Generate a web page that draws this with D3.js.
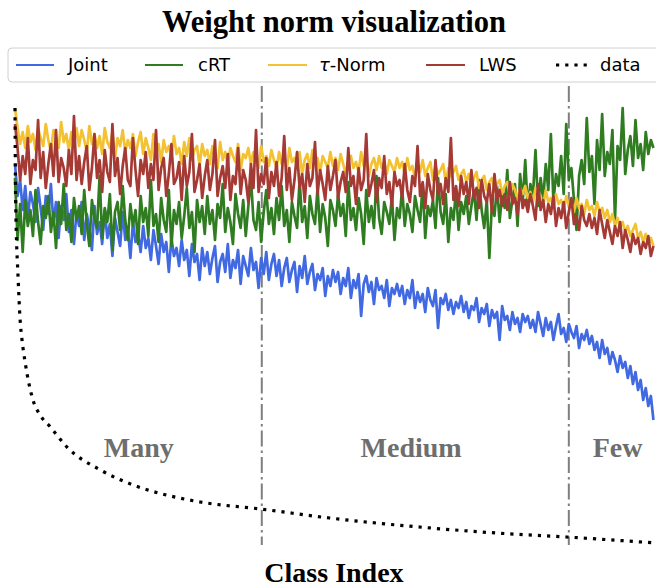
<!DOCTYPE html>
<html>
<head>
<meta charset="utf-8">
<script src="https://cdn.jsdelivr.net/npm/d3@7"></script>
<style>
  html, body { margin: 0; padding: 0; background: #fff; }
  svg { display: block; }
</style>
</head>
<body>
<svg id="chart" width="656" height="588"></svg>
<script>
// Per-class classifier weight norms (scaled units), sampled every 4th class of 1000,
// classes sorted by training-set frequency.
const numClasses = 1000;
const sampleStep = 4;

const jointNorm = [
  168,152,160,145,157,141,154,148,139,156,146,135,152,143,158,138,149,131,147,140,153,134,145,128,144,
  137,149,130,143,136,125,147,133,139,128,145,131,138,122,141,134,127,144,130,136,121,139,129,133,124,
  137,126,131,120,135,127,118,133,124,129,114,131,122,126,117,130,120,125,112,128,119,123,110,126,117,
  124,113,121,127,109,119,123,114,128,111,120,116,125,108,122,117,112,126,115,119,106,121,113,124,110,
  118,123,112,120,107,116,121,109,115,119,104,117,111,122,108,114,118,105,113,110,116,102,112,107,115,
  109,114,103,111,107,116,101,110,106,113,92,108,112,104,109,98,111,105,107,101,110,97,106,103,108,
  102,107,98,105,101,110,96,104,99,103,94,106,100,97,105,86,101,98,103,95,100,93,99,96,102,
  94,99,91,97,95,101,89,96,93,98,87,95,91,94,80,97,90,92,85,94,88,91,84,93,89,
  92,86,90,84,94,88,82,91,85,89,80,87,93,83,86,79,88,84,81,87,76,83,80,85,78,
  82,75,79,71,80,73,76,68,74,70,64,72,66,69,61,67,58,64,55,60,50,56,47,52,40
];

const crtNorm = [
  161,130,148,124,150,137,145,132,155,139,128,147,141,152,134,144,126,149,138,158,135,143,129,151,140,
  147,133,155,138,127,150,141,136,162,131,146,139,153,125,144,149,135,157,140,130,148,137,145,128,152,
  139,146,132,160,137,143,129,151,140,134,155,127,145,138,149,131,142,156,136,144,124,150,139,147,133,
  152,138,145,130,148,141,158,134,146,139,128,153,143,136,150,132,147,161,140,135,149,129,144,155,138,
  146,133,151,140,157,137,145,129,149,142,136,160,139,147,131,152,143,138,156,134,148,141,127,150,145,
  137,153,142,148,132,159,140,146,135,151,143,128,155,139,147,136,162,141,133,149,144,138,152,130,146,
  141,156,137,148,143,134,152,145,139,158,131,147,142,150,136,161,144,138,153,129,146,140,155,135,149,
  143,152,138,147,155,140,160,145,136,150,121,148,142,157,139,153,146,165,141,150,158,137,163,149,170,
  145,158,152,175,147,161,150,168,155,183,149,163,157,172,153,188,160,166,150,135,162,170,158,191,164,
  172,148,180,165,193,162,174,168,185,140,177,170,196,163,175,182,167,190,171,178,165,184,173,180,176
];

const tauNorm = [
  196,186,178,184,176,187,179,183,175,186,181,177,188,180,174,185,182,176,189,179,183,175,184,178,186,
  177,185,180,174,187,178,183,176,182,173,186,179,176,184,171,181,177,185,174,180,176,183,172,179,184,
  173,181,176,170,183,175,178,169,180,174,177,171,182,173,176,168,179,172,181,170,175,177,167,178,172,
  175,168,177,171,166,179,170,174,167,176,172,169,178,165,173,171,176,168,174,170,166,177,169,172,167,
  175,170,166,174,168,172,165,176,169,171,167,174,163,170,173,166,175,168,171,164,172,169,166,174,167,
  171,165,173,168,163,170,172,166,169,164,174,167,170,162,168,171,165,172,166,169,163,170,167,164,171,
  166,169,163,171,165,167,161,168,164,170,162,166,169,160,167,163,165,168,159,166,162,164,167,160,163,
  165,159,163,157,161,164,156,160,162,155,159,161,154,158,160,153,157,159,152,158,155,150,156,153,157,
  151,154,149,156,150,152,147,155,149,151,146,153,148,150,145,152,147,149,144,151,146,148,143,150,145,
  147,142,149,144,146,141,145,139,143,137,141,136,139,134,137,132,135,138,131,134,129,133,128,131,127
];

const lwsNorm = [
  188,176,160,172,163,181,158,170,165,190,161,174,156,168,178,162,185,159,171,166,157,175,163,192,160,
  172,158,169,177,155,166,183,161,170,154,175,164,159,188,162,171,153,167,176,160,157,181,165,152,170,
  163,174,156,168,160,185,155,166,171,152,163,178,158,161,169,150,172,157,164,183,154,160,168,151,162,
  170,155,163,180,152,161,167,156,173,150,162,158,176,153,165,160,149,168,156,185,154,163,158,171,151,
  164,157,169,152,161,182,155,166,150,160,174,156,163,149,168,157,161,179,153,165,158,150,167,155,162,
  170,151,159,164,154,176,157,162,148,166,155,160,183,152,158,165,149,161,156,172,153,159,147,164,157,
  160,151,168,155,149,162,157,177,152,159,146,163,155,150,170,153,158,148,161,154,181,150,157,147,162,
  153,159,148,165,151,156,146,160,152,149,158,144,163,150,155,147,153,145,159,148,151,143,156,146,150,
  144,153,147,140,158,145,150,139,148,143,152,137,146,141,149,136,144,151,138,142,135,147,140,137,143,
  136,141,133,145,138,131,140,134,128,137,132,139,126,135,130,124,133,128,131,123,129,126,132,122,127
];

// Training images per class (long-tailed distribution)
const dataClass = [0, 1, 5, 8, 11, 16, 28, 39, 55, 81, 133, 184, 237, 289, 385, 491, 647, 752, 864, 999];
const dataCount = [1280, 1010, 776, 659, 600, 533, 425, 381, 346, 287, 220, 176, 146, 126, 105, 79, 50, 35, 23, 6];

// Many / Medium / Few split points and group captions
const splitClass = [385, 864];
const groupLabels = ["Many", "Medium", "Few"];
const groupLabelClass = [193, 618, 940];

const seriesNames = ["Joint", "cRT", "τ-Norm", "LWS"];
const seriesColors = ["#4169e1", "#2f7d20", "#f3c232", "#a53a35"];
const seriesValues = [jointNorm, crtNorm, tauNorm, lwsNorm];

const svg = d3.select("#chart");
const serif = "'Liberation Serif', 'Times New Roman', Times, serif";
const sans = "'DejaVu Sans', Verdana, sans-serif";

const x = d3.scaleLinear().domain([0, numClasses]).range([15, 656]);
const yNorm = d3.scaleLinear().domain([0, 200]).range([500, 100]);
const yCount = d3.scaleLinear().domain([0, 1280]).range([545, 108]);

// Title
svg.append("text")
  .attr("x", 334).attr("y", 32)
  .attr("text-anchor", "middle")
  .style("font-family", serif).style("font-weight", "bold").style("font-size", "30.5px")
  .text("Weight norm visualization");

// Split markers
svg.selectAll("line.split")
  .data(splitClass)
  .join("line")
  .attr("class", "split")
  .attr("x1", d => x(d)).attr("x2", d => x(d))
  .attr("y1", 86).attr("y2", 545)
  .attr("stroke", "#7f7f7f").attr("stroke-width", 2)
  .attr("stroke-dasharray", "16,4,2.5,4");

// Group captions
svg.selectAll("text.group")
  .data(groupLabels)
  .join("text")
  .attr("class", "group")
  .attr("x", (d, i) => x(groupLabelClass[i]))
  .attr("y", 457)
  .attr("text-anchor", "middle")
  .attr("fill", "#6e6e6e")
  .style("font-family", serif).style("font-weight", "bold").style("font-size", "28px")
  .text(d => d);

// Weight-norm curves
const normLine = d3.line()
  .x((d, i) => x(i * sampleStep))
  .y(d => yNorm(d));

seriesValues.forEach((vals, s) => {
  svg.append("path")
    .datum(vals)
    .attr("d", normLine)
    .attr("fill", "none")
    .attr("stroke", seriesColors[s])
    .attr("stroke-width", 2.7)
    .attr("stroke-linejoin", "round");
});

// Class frequency curve
const countLine = d3.line()
  .x((d, i) => x(dataClass[i]))
  .y(d => yCount(d))
  .curve(d3.curveMonotoneX);

svg.append("path")
  .datum(dataCount)
  .attr("d", countLine)
  .attr("fill", "none")
  .attr("stroke", "#000")
  .attr("stroke-width", 3.2)
  .attr("stroke-dasharray", "3.2,6");

// X label
svg.append("text")
  .attr("x", 334).attr("y", 582)
  .attr("text-anchor", "middle")
  .style("font-family", serif).style("font-weight", "bold").style("font-size", "28px")
  .text("Class Index");

// Legend
const legend = svg.append("g");
legend.append("rect")
  .attr("x", 8).attr("y", 48).attr("width", 660).attr("height", 34)
  .attr("rx", 4)
  .attr("fill", "#fff").attr("stroke", "#d0d0d0").attr("stroke-width", 1);

const legendItems = [
  { name: seriesNames[0], color: seriesColors[0], x0: 16, x1: 54, tx: 68 },
  { name: seriesNames[1], color: seriesColors[1], x0: 145, x1: 183, tx: 198 },
  { name: seriesNames[2], color: seriesColors[2], x0: 268, x1: 307, tx: 319 },
  { name: seriesNames[3], color: seriesColors[3], x0: 426, x1: 465, tx: 479 },
  { name: "data", color: "#000", x0: 556, x1: 590, tx: 600, dotted: true }
];

legendItems.forEach(it => {
  legend.append("line")
    .attr("x1", it.x0).attr("x2", it.x1)
    .attr("y1", 65).attr("y2", 65)
    .attr("stroke", it.color)
    .attr("stroke-width", it.dotted ? 3.2 : 2.2)
    .attr("stroke-dasharray", it.dotted ? "3.2,6" : null);
  const t = legend.append("text")
    .attr("x", it.tx).attr("y", 71)
    .style("font-family", sans).style("font-size", "18px")
    .attr("fill", "#000");
  if (it.name.startsWith("τ")) {
    t.append("tspan").style("font-style", "italic").text("τ");
    t.append("tspan").text(it.name.slice(1));
  } else {
    t.text(it.name);
  }
});
</script>
</body>
</html>
